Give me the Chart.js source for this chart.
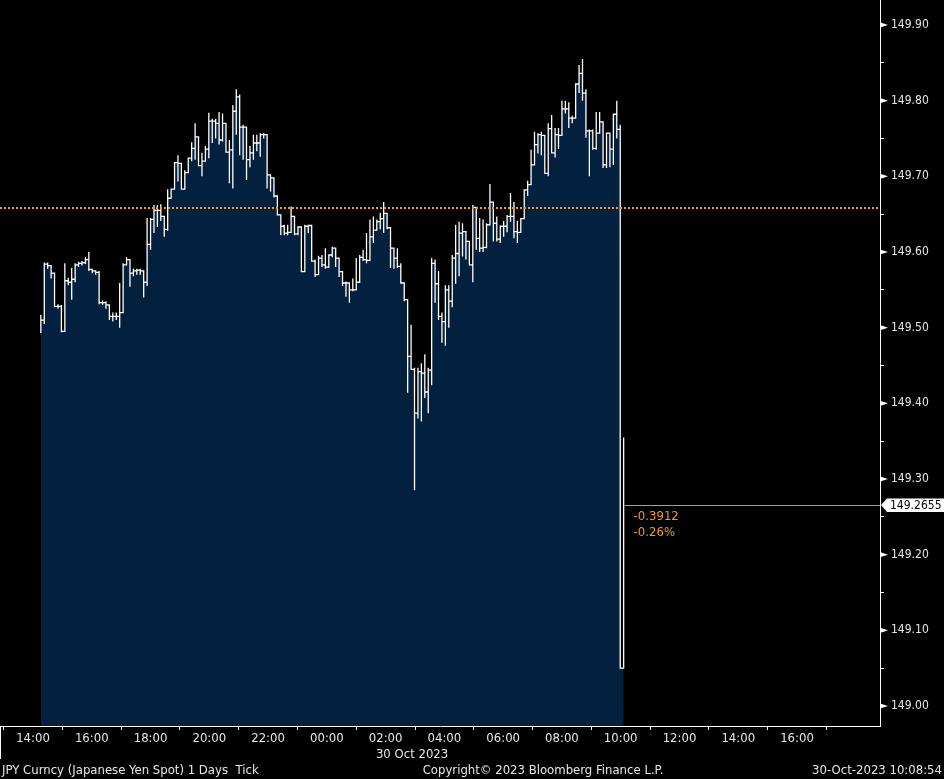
<!DOCTYPE html>
<html><head><meta charset="utf-8">
<script src="https://cdn.jsdelivr.net/npm/chart.js@4.4.0/dist/chart.umd.min.js"></script>
<style>html,body{margin:0;padding:0;background:#000;overflow:hidden}canvas{display:block}</style>
</head><body>
<canvas id="c" width="944" height="779"></canvas>
<script>
// ---- data ----
const times = [
'14:16','14:23','14:30','14:37','14:44','14:51','14:58','15:05','15:12','15:19',
'15:26','15:33','15:40','15:47','15:54','16:01','16:08','16:15','16:22','16:29',
'16:36','16:43','16:50','16:57','17:04','17:11','17:18','17:25','17:32','17:39',
'17:46','17:53','18:00','18:07','18:14','18:21','18:28','18:35','18:42','18:49',
'18:56','19:03','19:10','19:17','19:24','19:31','19:38','19:45','19:52','19:59',
'20:06','20:13','20:20','20:27','20:34','20:41','20:48','20:55','21:02','21:09',
'21:16','21:23','21:30','21:37','21:44','21:51','21:58','22:05','22:12','22:19',
'22:26','22:33','22:40','22:47','22:54','23:01','23:08','23:15','23:22','23:29',
'23:36','23:43','23:50','23:57','00:04','00:11','00:18','00:25','00:32','00:39',
'00:46','00:53','01:00','01:07','01:14','01:21','01:28','01:35','01:42','01:49',
'01:56','02:03','02:10','02:17','02:24','02:31','02:38','02:45','02:52','02:59',
'03:06','03:13','03:20','03:27','03:34','03:41','03:48','03:55','04:02','04:09',
'04:16','04:23','04:30','04:37','04:44','04:51','04:58','05:05','05:12','05:19',
'05:26','05:33','05:40','05:47','05:54','06:01','06:08','06:15','06:22','06:29',
'06:36','06:43','06:50','06:57','07:04','07:11','07:18','07:25','07:32','07:39',
'07:46','07:53','08:00','08:07','08:14','08:21','08:28','08:35','08:42','08:49',
'08:56','09:03','09:10','09:17','09:24','09:31','09:38','09:45','09:52','09:59',
'10:06'];
const highs = [
149.517,149.586,149.586,149.578,149.572,149.531,149.530,149.585,149.566,149.579,
149.585,149.587,149.588,149.593,149.600,149.578,149.576,149.575,149.536,149.535,
149.530,149.520,149.520,149.559,149.585,149.593,149.590,149.578,149.578,149.578,
149.576,149.645,149.645,149.662,149.662,149.663,149.648,149.683,149.684,149.718,
149.728,149.717,149.708,149.724,149.745,149.770,149.752,149.731,149.740,149.784,
149.776,149.776,149.785,149.783,149.770,149.748,149.794,149.815,149.808,149.768,
149.765,149.740,149.755,149.755,149.757,149.757,149.755,149.702,149.698,149.674,
149.649,149.636,149.636,149.660,149.647,149.633,149.633,149.636,149.636,149.635,
149.590,149.595,149.596,149.605,149.596,149.607,149.605,149.592,149.574,149.561,
149.559,149.565,149.592,149.596,149.603,149.625,149.643,149.647,149.643,149.652,
149.666,149.651,149.632,149.603,149.605,149.585,149.559,149.537,149.504,149.447,
149.447,149.453,149.465,149.447,149.592,149.590,149.575,149.520,149.556,149.556,
149.596,149.636,149.640,149.638,149.627,149.614,149.662,149.659,149.645,149.643,
149.638,149.690,149.666,149.647,149.634,149.641,149.649,149.678,149.666,149.641,
149.644,149.683,149.694,149.735,149.759,149.757,149.759,149.754,149.770,149.781,
149.764,149.764,149.800,149.800,149.798,149.780,149.823,149.847,149.855,149.815,
149.762,149.762,149.785,149.785,149.772,149.758,149.758,149.782,149.800,149.768,
149.355];
const lows = [
149.493,149.505,149.578,149.565,149.527,149.525,149.494,149.495,149.556,149.537,
149.560,149.580,149.582,149.584,149.575,149.572,149.570,149.531,149.530,149.525,
149.510,149.508,149.510,149.500,149.520,149.583,149.554,149.568,149.570,149.570,
149.540,149.555,149.603,149.625,149.633,149.641,149.620,149.628,149.670,149.683,
149.693,149.683,149.683,149.705,149.720,149.722,149.714,149.700,149.725,149.724,
149.744,149.750,149.742,149.746,149.732,149.691,149.684,149.755,149.728,149.722,
149.695,149.712,149.722,149.733,149.726,149.750,149.684,149.680,149.672,149.649,
149.622,149.622,149.622,149.625,149.622,149.622,149.574,149.574,149.625,149.588,
149.567,149.570,149.580,149.578,149.580,149.593,149.580,149.567,149.555,149.541,
149.533,149.548,149.550,149.575,149.588,149.585,149.589,149.612,149.629,149.630,
149.625,149.630,149.579,149.578,149.579,149.559,149.535,149.414,149.445,149.285,
149.380,149.376,149.407,149.387,149.424,149.533,149.510,149.480,149.476,149.500,
149.527,149.558,149.568,149.594,149.590,149.582,149.560,149.603,149.600,149.600,
149.605,149.636,149.614,149.614,149.612,149.620,149.626,149.640,149.618,149.612,
149.626,149.644,149.674,149.710,149.715,149.730,149.728,149.704,149.700,149.731,
149.725,149.736,149.754,149.783,149.764,149.770,149.777,149.810,149.800,149.751,
149.700,149.735,149.735,149.757,149.711,149.711,149.712,149.715,149.750,149.050,
149.050];
const closes = [
149.510,149.584,149.582,149.572,149.528,149.528,149.495,149.562,149.560,149.564,
149.583,149.585,149.586,149.590,149.577,149.575,149.573,149.533,149.533,149.530,
149.515,149.515,149.515,149.520,149.583,149.590,149.572,149.575,149.576,149.575,
149.560,149.610,149.643,149.655,149.655,149.647,149.630,149.671,149.683,149.718,
149.717,149.683,149.705,149.724,149.737,149.752,149.714,149.720,149.736,149.773,
149.773,149.770,149.748,149.770,149.732,149.735,149.786,149.805,149.765,149.765,
149.722,149.731,149.744,149.744,149.755,149.755,149.702,149.698,149.674,149.649,
149.634,149.625,149.626,149.647,149.624,149.633,149.574,149.634,149.635,149.588,
149.570,149.592,149.583,149.580,149.596,149.605,149.592,149.574,149.559,149.559,
149.550,149.550,149.560,149.593,149.590,149.589,149.620,149.629,149.640,149.644,
149.651,149.632,149.605,149.592,149.581,149.559,149.537,149.462,149.445,149.387,
149.442,149.440,149.415,149.444,149.585,149.558,149.515,149.508,149.550,149.535,
149.592,149.598,149.625,149.627,149.614,149.583,149.659,149.618,149.605,149.606,
149.636,149.666,149.638,149.617,149.634,149.634,149.647,149.647,149.627,149.626,
149.644,149.682,149.689,149.715,149.742,149.755,149.754,149.704,149.763,149.731,
149.755,149.754,149.789,149.789,149.777,149.777,149.822,149.836,149.810,149.760,
149.760,149.737,149.757,149.772,149.715,149.757,149.736,149.782,149.762,149.050,
149.2655];
const prevClose = 149.6585;
const lastPrice = 149.2655;
const lastTime = '10:08';
const netChange = '-0.3912';
const pctChange = '-0.26%';
const dateLabel = '30 Oct 2023';
const dateLabelTime = '02:54';
const footerLeft = 'JPY Curncy (Japanese Yen Spot) 1 Days  Tick';
const footerCenter = 'Copyright\u00A9 2023 Bloomberg Finance L.P.';
const footerRight = '30-Oct-2023 10:08:54';

// ---- styling ----
const FONT = "'DejaVu Sans Condensed', 'DejaVu Sans', sans-serif";
const NAVY = '#03203e';
const TEXT = '#e6e6e6';
const ORANGE = '#ff9a14';

// hours since 14:00 on the first day
function toHours(t) {
  const [h, m] = t.split(':').map(Number);
  let v = h + m / 60;
  if (v < 14) v += 24;
  return v - 14;
}

const points = [];
times.forEach((t, i) => {
  const x = toHours(t);
  points.push({x, y: highs[i]}, {x, y: lows[i]}, {x, y: closes[i]});
});

const overlay = {
  id: 'overlay',
  beforeDraw(chart) {
    const c = chart.ctx;
    c.save(); c.fillStyle = '#000'; c.fillRect(0, 0, chart.width, chart.height); c.restore();
  },
  afterDatasetsDraw(chart) {
    const c = chart.ctx, a = chart.chartArea, xs = chart.scales.x, ys = chart.scales.y;
    c.save();
    // previous close dotted line
    const yp = Math.round(ys.getPixelForValue(prevClose));
    c.strokeStyle = ORANGE; c.lineWidth = 2; c.setLineDash([2, 2]);
    c.beginPath(); c.moveTo(a.left, yp); c.lineTo(a.right, yp); c.stroke();
    c.setLineDash([]);
    // last price line
    const yl = Math.round(ys.getPixelForValue(lastPrice)) + 0.5;
    const xl = xs.getPixelForValue(toHours(lastTime));
    c.strokeStyle = '#e8941f'; c.lineWidth = 1;
    c.beginPath(); c.moveTo(xl, yl); c.lineTo(a.right, yl); c.stroke();
    c.fillStyle = '#f39a1e'; c.font = '13px ' + FONT; c.textAlign = 'left'; c.textBaseline = 'alphabetic';
    c.fillText(netChange, xl + 9, yl + 14);
    c.fillText(pctChange, xl + 9, yl + 30);
    c.restore();
  },
  afterDraw(chart) {
    const c = chart.ctx, a = chart.chartArea, xs = chart.scales.x, ys = chart.scales.y;
    c.save();
    // arrow markers on labelled y ticks
    c.fillStyle = '#fff';
    ys.ticks.forEach(t => {
      const k = Math.round(t.value * 100);
      if (k % 10 !== 0) return;
      const y = ys.getPixelForValue(t.value);
      c.beginPath(); c.moveTo(a.right, y - 2.6); c.lineTo(a.right + 8, y); c.lineTo(a.right, y + 2.6); c.closePath(); c.fill();
    });
    // last price box
    const yl = ys.getPixelForValue(lastPrice);
    c.fillStyle = '#fff';
    c.beginPath();
    c.moveTo(a.right + 1, yl);
    c.lineTo(a.right + 7, yl - 6.5);
    c.lineTo(chart.width, yl - 6.5);
    c.lineTo(chart.width, yl + 7);
    c.lineTo(a.right + 7, yl + 7);
    c.closePath(); c.fill();
    c.fillStyle = '#000'; c.font = '12px ' + FONT; c.textAlign = 'left'; c.textBaseline = 'middle';
    c.fillText(lastPrice.toFixed(4), a.right + 10, yl + 0.5);
    // date label under the x axis
    c.fillStyle = TEXT; c.font = '13px ' + FONT; c.textAlign = 'center'; c.textBaseline = 'alphabetic';
    c.fillText(dateLabel, xs.getPixelForValue(toHours(dateLabelTime)), 758);
    // footer
    c.textAlign = 'left'; c.fillText(footerLeft, 2, 774);
    c.textAlign = 'center'; c.fillText(footerCenter, 543, 774);
    c.textAlign = 'right'; c.fillText(footerRight, chart.width - 2, 774);
    // left edge line of the axis box
    c.strokeStyle = '#fff'; c.lineWidth = 1;
    c.beginPath(); c.moveTo(0.5, a.bottom); c.lineTo(0.5, 759); c.stroke();
    c.restore();
  }
};

new Chart(document.getElementById('c'), {
  type: 'line',
  data: {
    datasets: [{
      data: points,
      borderColor: '#ffffff',
      borderWidth: 1.3,
      backgroundColor: NAVY,
      fill: 'start',
      stepped: true,
      pointRadius: 0,
      tension: 0
    }]
  },
  options: {
    responsive: false,
    animation: false,
    events: [],
    layout: { padding: 0 },
    plugins: { legend: { display: false }, tooltip: { enabled: false } },
    scales: {
      x: {
        type: 'linear',
        position: 'bottom',
        min: -1.123,
        max: 28.824,
        border: { display: true, color: '#ffffff', width: 1 },
        grid: {
          drawOnChartArea: false,
          drawTicks: true,
          tickLength: 4,
          color: ctx => (ctx.tick && Math.abs(Math.round(ctx.tick.value)) % 2 === 1) ? '#ffffff' : 'rgba(0,0,0,0)'
        },
        ticks: {
          stepSize: 1,
          autoSkip: false,
          includeBounds: false,
          maxRotation: 0,
          minRotation: 0,
          padding: 1,
          color: TEXT,
          font: { family: FONT, size: 13 },
          callback: v => {
            const r = Math.round(v);
            if (r % 2 !== 0 || r < 0 || r > 26) return '';
            const h = (14 + r) % 24;
            return String(h).padStart(2, '0') + ':00';
          }
        },
        afterFit: s => { s.height = 53; s.paddingLeft = 0; s.paddingRight = 0; }
      },
      y: {
        type: 'linear',
        position: 'right',
        min: 148.9736,
        max: 149.933,
        border: { display: true, color: '#ffffff', width: 1 },
        grid: { drawOnChartArea: false, drawTicks: true, tickLength: 4, color: '#ffffff' },
        ticks: {
          stepSize: 0.05,
          autoSkip: false,
          includeBounds: false,
          padding: 7,
          color: TEXT,
          font: { family: FONT, size: 12 },
          callback: v => {
            const k = Math.round(v * 100);
            return k % 10 === 0 ? (k / 100).toFixed(2) : '';
          }
        },
        afterFit: s => { s.width = 64; s.paddingTop = 0; s.paddingBottom = 0; }
      }
    }
  },
  plugins: [overlay]
});
</script>
</body></html>
